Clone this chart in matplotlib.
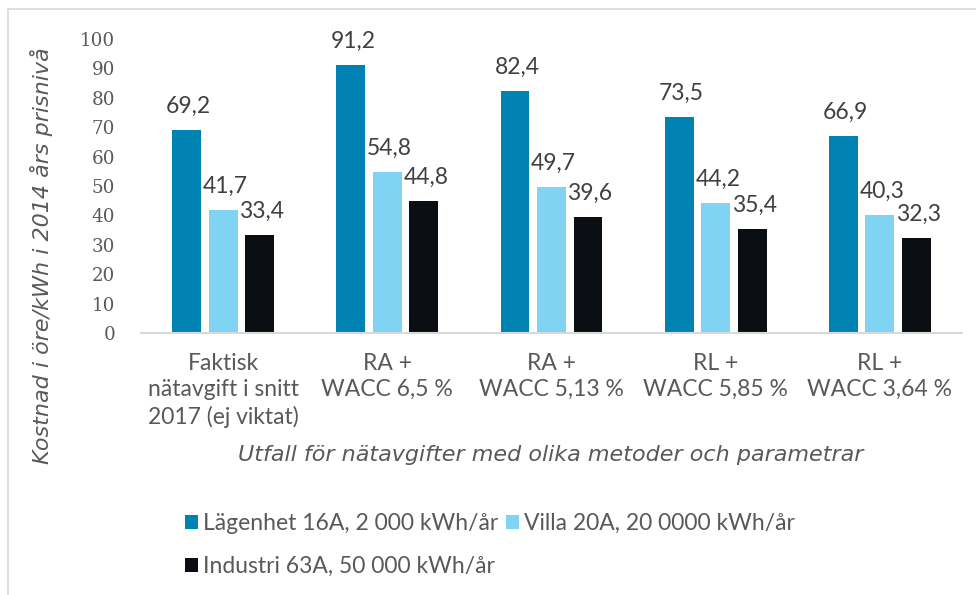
import numpy as np
import matplotlib
matplotlib.use("Agg")
import matplotlib.pyplot as plt
from matplotlib.patches import Rectangle

# Data
categories = ["Faktisk\nnätavgift i snitt\n2017 (ej viktat)",
              "RA +\nWACC 6,5 %",
              "RA +\nWACC 5,13 %",
              "RL +\nWACC 5,85 %",
              "RL +\nWACC 3,64 %"]
series_names = ["Lägenhet 16A, 2 000 kWh/år",
                "Villa 20A, 20 0000 kWh/år",
                "Industri 63A, 50 000 kWh/år"]
lagenhet = [69.2, 91.2, 82.4, 73.5, 66.9]
villa = [41.7, 54.8, 49.7, 44.2, 40.3]
industri = [33.4, 44.8, 39.6, 35.4, 32.3]
yticks = [0, 10, 20, 30, 40, 50, 60, 70, 80, 90, 100]

colors = ["#0083B2", "#80D3F2", "#0B0F14"]
text_gray = "#595959"
sans = ["Lato", "DejaVu Sans"]
title_font = ["DejaVu Sans"]
serif = ["DejaVu Serif"]

fig = plt.figure(figsize=(9.76, 5.95), dpi=100)
ax = fig.add_axes([141 / 976, 1 - 333 / 595, (962 - 141) / 976, (333 - 39) / 595])

x = np.arange(len(categories))
width = 0.176
step = 0.222
handles = []
for i, (vals, name) in enumerate(zip([lagenhet, villa, industri], series_names)):
    bars = ax.bar(x + (i - 1) * step, vals, width, color=colors[i], label=name)
    handles.append(bars)
    for xb, v in zip(x + (i - 1) * step, vals):
        ax.annotate(f"{v:.1f}".replace(".", ","), (xb, v), xytext=(1.5, 17),
                    textcoords="offset points", ha="center", va="center",
                    fontsize=16.5, color="#404040", family=sans)

ax.set_xlim(-0.5, len(categories) - 0.5)
ax.set_ylim(0, 100)
ax.set_yticks(yticks)
ax.set_yticklabels([str(t) for t in yticks], family=serif, fontsize=13.2, color=text_gray)
ax.set_xticks(x)
ax.set_xticklabels(categories, family=sans, fontsize=16.5, color=text_gray, linespacing=1.3)
ax.tick_params(axis="y", length=0, pad=18.5)
ax.tick_params(axis="x", length=0, pad=14.5)
for s in ["top", "right", "left"]:
    ax.spines[s].set_visible(False)
ax.spines["bottom"].set_color("#D9D9D9")
ax.spines["bottom"].set_linewidth(1.5)

fig.text(551 / 976, 1 - 455 / 595, "Utfall för nätavgifter med olika metoder och parametrar",
         ha="center", va="center", style="italic", fontsize=16, color=text_gray, family=title_font)
fig.text(42 / 976, 1 - 256 / 595, "Kostnad i öre/kWh i 2014 års prisnivå",
         ha="center", va="center", rotation=90, style="italic", fontsize=16,
         color=text_gray, family=title_font)

# legend laid out row-wise: L, V on row 1, I on row 2
leg = fig.legend([handles[0], handles[2], handles[1]],
                 [series_names[0], series_names[2], series_names[1]],
                 ncol=2, loc="upper left", bbox_to_anchor=(185 / 976, 1 - 513 / 595),
                 frameon=False, borderpad=0, borderaxespad=0,
                 handlelength=0.57, handleheight=0.57, handletextpad=0.22,
                 columnspacing=0.35, labelspacing=0.97, prop={"family": sans, "size": 16.5})
for t in leg.get_texts():
    t.set_color(text_gray)

# light chart frame, cut off at right and bottom
fig.patches.append(Rectangle((8 / 976, -0.1), 1.2, 1 - 9 / 595 + 0.1, transform=fig.transFigure,
                             fill=False, edgecolor="#D9D9D9", linewidth=1.2))

fig.savefig("out.png", dpi=100)
